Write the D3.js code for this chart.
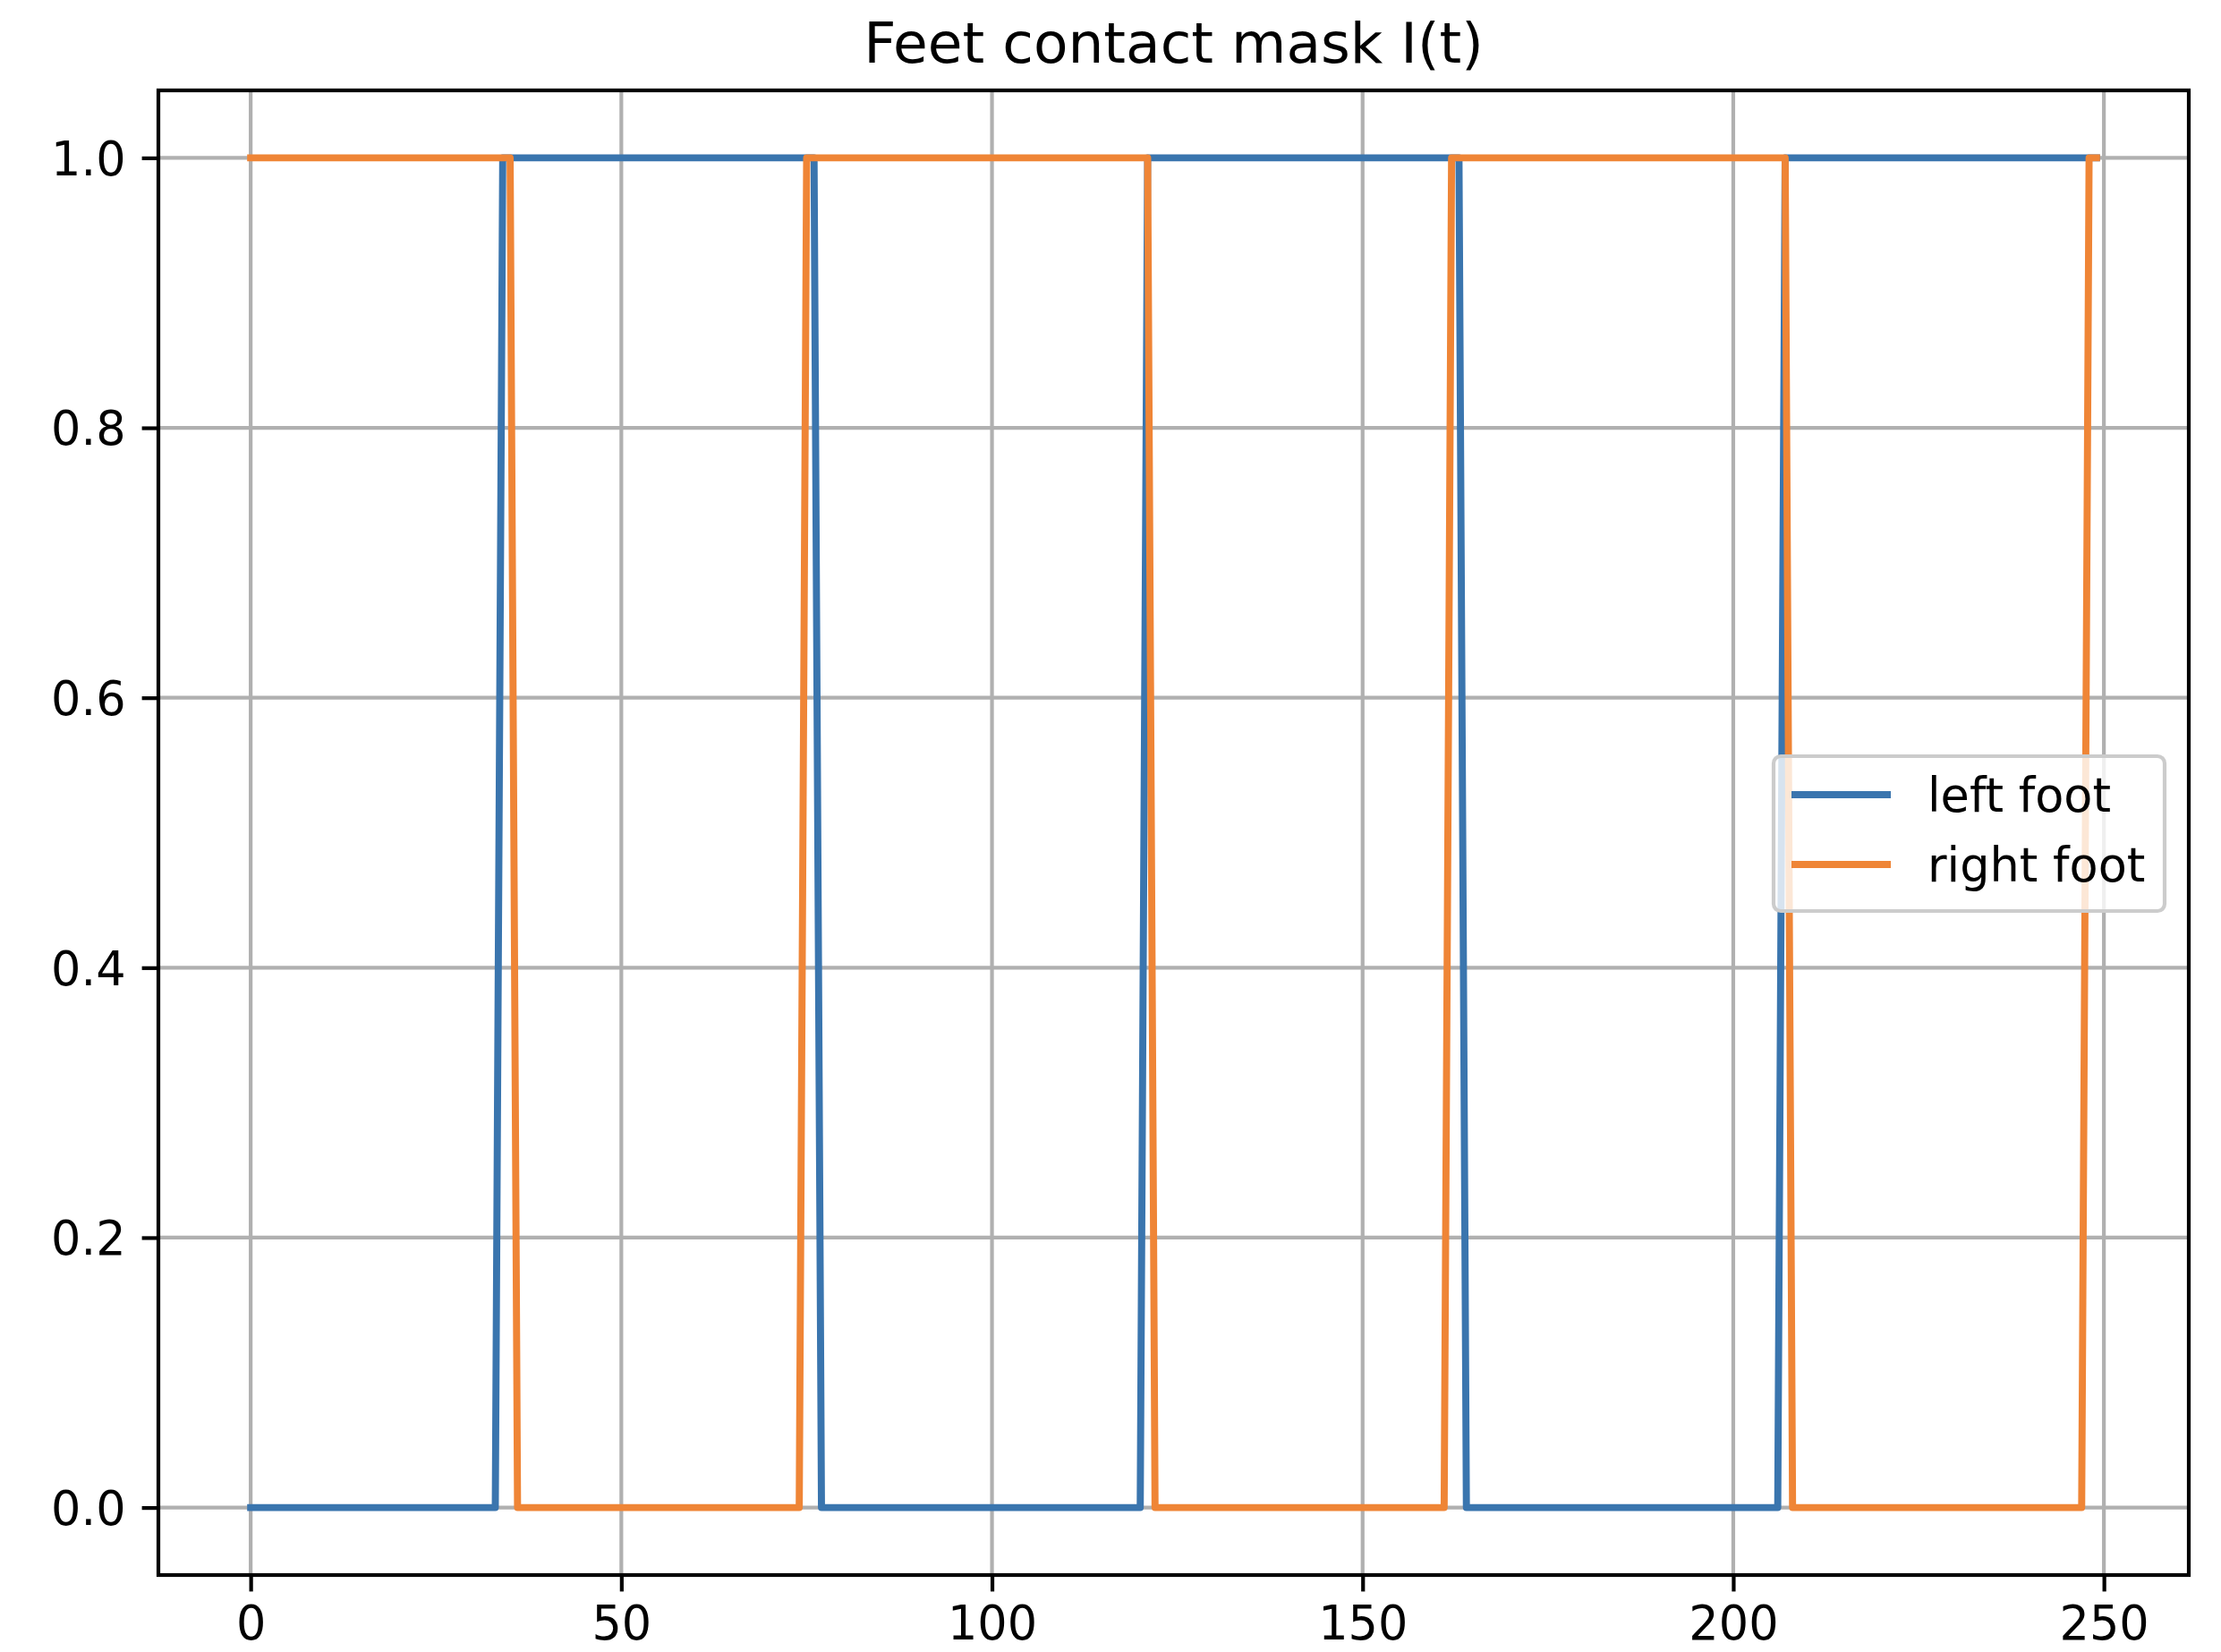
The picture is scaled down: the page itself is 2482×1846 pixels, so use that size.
<!DOCTYPE html>
<html>
<head>
<meta charset="utf-8">
<title>Feet contact mask</title>
<script src="https://cdn.jsdelivr.net/npm/d3@7"></script>
<style>
    body { margin: 0; background: #fff; }
    svg { display: block; font-family: "DejaVu Sans", sans-serif; }
</style>
</head>
<body>
<script>
    // vertices of the step lines (frame index, contact value)
    var leftT  = [0, 33, 34, 76, 77, 120, 121, 163, 164, 206, 207, 249];
    var leftV  = [0, 0, 1, 1, 0, 0, 1, 1, 0, 0, 1, 1];
    var rightT = [0, 35, 36, 74, 75, 121, 122, 161, 162, 207, 208, 247, 248, 249];
    var rightV = [1, 1, 0, 0, 1, 1, 0, 0, 1, 1, 0, 0, 1, 1];
    var seriesNames = ["left foot", "right foot"];
    var xTicks = [0, 50, 100, 150, 200, 250];
    var yTicks = [0.0, 0.2, 0.4, 0.6, 0.8, 1.0];

    var W = 2482, H = 1846;
    var m = {left: 177, right: 2446, top: 101, bottom: 1760};
    var colors = ["#3a75ae", "#ef8536"];
    var fs = 52.5, lw = 4.2;

    var svg = d3.select("body").append("svg")
        .attr("width", W).attr("height", H);

    var x = d3.scaleLinear().domain([-12.45, 261.45]).range([m.left, m.right]);
    var y = d3.scaleLinear().domain([-0.05, 1.05]).range([m.bottom, m.top]);

    // grid
    svg.append("g").selectAll("line").data(xTicks).enter().append("line")
        .attr("x1", d => x(d)).attr("x2", d => x(d))
        .attr("y1", m.top).attr("y2", m.bottom)
        .attr("stroke", "#b0b0b0").attr("stroke-width", lw);
    svg.append("g").selectAll("line").data(yTicks).enter().append("line")
        .attr("y1", d => y(d)).attr("y2", d => y(d))
        .attr("x1", m.left).attr("x2", m.right)
        .attr("stroke", "#b0b0b0").attr("stroke-width", lw);

    // lines
    var line = d3.line().x(d => x(d[0])).y(d => y(d[1]));
    var series = [d3.zip(leftT, leftV), d3.zip(rightT, rightV)];
    svg.append("g").selectAll("path").data(series).enter().append("path")
        .attr("d", line)
        .attr("fill", "none")
        .attr("stroke", (d, i) => colors[i])
        .attr("stroke-width", 7.9)
        .attr("stroke-linejoin", "round")
        .attr("stroke-linecap", "square");

    // axes
    var xAxis = d3.axisBottom(x).tickValues(xTicks).tickSize(18.4).tickPadding(14).tickFormat(d3.format("d"));
    var yAxis = d3.axisLeft(y).tickValues(yTicks).tickSize(18.4).tickPadding(18).tickFormat(d3.format(".1f"));
    var gx = svg.append("g").attr("transform", "translate(0," + m.bottom + ")").call(xAxis);
    var gy = svg.append("g").attr("transform", "translate(" + m.left + ",0)").call(yAxis);
    [gx, gy].forEach(function (g) {
        g.select(".domain").remove();
        g.selectAll(".tick line").attr("stroke", "#000").attr("stroke-width", lw);
        g.selectAll(".tick text").attr("fill", "#000")
            .style("font-size", fs + "px").style("font-family", "DejaVu Sans");
    });
    gx.selectAll(".tick text").attr("dy", "0.76em");
    gy.selectAll(".tick text").attr("dy", "0.36em");

    svg.append("rect")
        .attr("x", m.left).attr("y", m.top)
        .attr("width", m.right - m.left).attr("height", m.bottom - m.top)
        .attr("fill", "none").attr("stroke", "#000").attr("stroke-width", lw);

    // title
    svg.append("text")
        .attr("x", (m.left + m.right) / 2).attr("y", 70)
        .attr("text-anchor", "middle")
        .style("font-size", "63px")
        .text("Feet contact mask I(t)");

    // legend, center right
    var lg = svg.append("g").attr("transform", "translate(1982,845)");
    lg.append("rect")
        .attr("width", 437).attr("height", 173).attr("rx", 8)
        .attr("fill", "#fff").attr("fill-opacity", 0.8)
        .attr("stroke", "#cccccc").attr("stroke-width", lw);
    seriesNames.forEach(function (name, i) {
        var yy = 43 + i * 78;
        lg.append("line")
            .attr("x1", 20).attr("x2", 131).attr("y1", yy).attr("y2", yy)
            .attr("stroke", colors[i]).attr("stroke-width", 7.9);
        lg.append("text")
            .attr("x", 172).attr("y", yy + 19)
            .style("font-size", fs + "px")
            .text(name);
    });
</script>
</body>
</html>
